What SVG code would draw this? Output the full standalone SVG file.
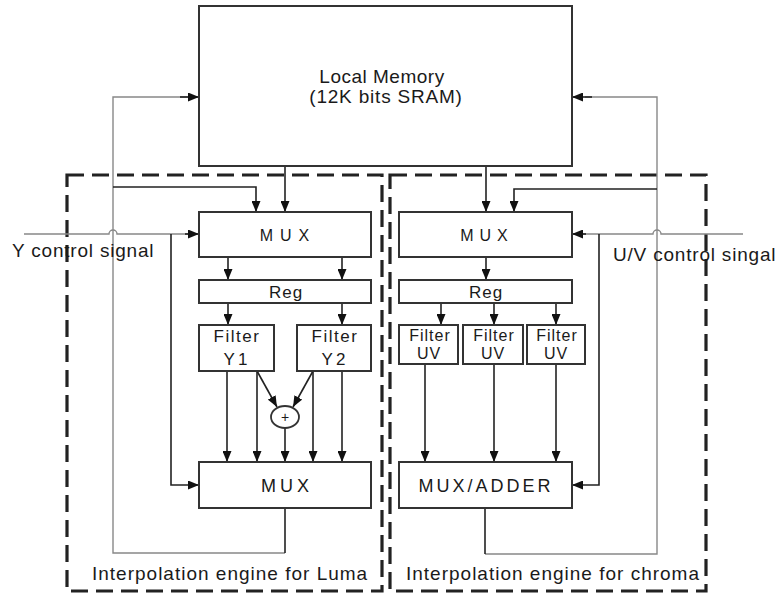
<svg xmlns="http://www.w3.org/2000/svg" width="780" height="594" viewBox="0 0 780 594">
<defs>
<marker id="ah" viewBox="0 0 11 9" refX="11" refY="4.5" markerWidth="11" markerHeight="9" markerUnits="userSpaceOnUse" orient="auto">
<path d="M0,0 L11,4.5 L0,9 z" fill="#111"/>
</marker>
</defs>
<style>
.box{fill:#fff;stroke:#333;stroke-width:2}
.dash{fill:none;stroke:#222;stroke-width:3.2;stroke-dasharray:17 8}
.w{fill:none;stroke:#222;stroke-width:1.6}
.g{fill:none;stroke:#888;stroke-width:1.4}
.a{marker-end:url(#ah)}
text{font-family:"Liberation Sans",Arial,sans-serif;fill:#1a1a1a}
.t19{font-size:19px}
.c{text-anchor:middle}
</style>
<rect width="780" height="594" fill="#fff"/>

<g id="luma-engine">
<rect class="dash" x="67" y="175" width="315" height="416"/>
<text class="t19" x="92" y="580" letter-spacing="1">Interpolation engine for Luma</text>
</g>
<g id="chroma-engine">
<rect class="dash" x="390" y="175" width="316" height="416"/>
<text class="t19" x="406" y="580" letter-spacing="1">Interpolation engine for chroma</text>
</g>

<g id="connectors">
<path class="g" d="M285,553 H113 V97 H188"/>
<path class="w a" d="M180,97 H199"/>
<path class="w" d="M285,508 V553"/>
<path class="w a" d="M113,187 H256 V212"/>
<path class="w a" d="M285,166 V212"/>
<path class="g" d="M485,554 H657 V97 H585"/>
<path class="w a" d="M592,97 H572"/>
<path class="w" d="M485,508 V554"/>
<path class="w a" d="M657,189 H514 V212"/>
<path class="w a" d="M486,166 V212"/>
<path class="g" d="M24,234 H109 A4,4 0 0 1 117,234 H190"/>
<path class="w a" d="M185,234 H199"/>
<path class="w a" d="M171,234 V485 H199"/>
<path class="g" d="M743,234 H661 A4,4 0 0 0 653,234 H580"/>
<path class="w a" d="M586,234 H572"/>
<path class="w a" d="M599,234 V485 H572"/>
<path class="w a" d="M228,257 V280"/>
<path class="w a" d="M342,257 V280"/>
<path class="w a" d="M228,303 V325"/>
<path class="w a" d="M342,303 V325"/>
<path class="w a" d="M227,371 V462"/>
<path class="w a" d="M257,371 V462"/>
<path class="w a" d="M313,371 V462"/>
<path class="w a" d="M342,371 V462"/>
<path class="w a" d="M257,371 L277,407"/>
<path class="w a" d="M313,371 L293,407"/>
<path class="w a" d="M285,428 V462"/>
<path class="w a" d="M486,257 V280"/>
<path class="w a" d="M441,303 V325"/>
<path class="w a" d="M494,303 V325"/>
<path class="w a" d="M556,303 V325"/>
<path class="w a" d="M425,364 V462"/>
<path class="w a" d="M494,364 V462"/>
<path class="w a" d="M556,364 V462"/>
</g>

<g id="local-memory">
<rect class="box" x="199" y="6" width="373" height="160"/>
<text class="t19 c" x="382" y="83" letter-spacing="0.5">Local Memory</text>
<text class="t19 c" x="386" y="103" letter-spacing="0.8">(12K bits SRAM)</text>
</g>

<g id="y-control-label"><text class="t19" x="12" y="257" letter-spacing="0.8">Y control signal</text></g>
<g id="uv-control-label"><text class="t19" x="613" y="261" letter-spacing="0.8">U/V  control singal</text></g>

<g id="luma-mux-top">
<rect class="box" x="199" y="212" width="172" height="45"/>
<text class="c" x="288" y="241" font-size="16" letter-spacing="7">MUX</text>
</g>
<g id="luma-reg">
<rect class="box" x="199" y="280" width="172" height="23"/>
<text class="c" x="286" y="298" font-size="17" letter-spacing="1">Reg</text>
</g>
<g id="filter-y1">
<rect class="box" x="199" y="325" width="75" height="46"/>
<text class="c" x="237" y="342" font-size="17" letter-spacing="1.5">Filter</text>
<text class="c" x="237" y="365" font-size="17" letter-spacing="3">Y1</text>
</g>
<g id="filter-y2">
<rect class="box" x="297" y="325" width="74" height="46"/>
<text class="c" x="335" y="342" font-size="17" letter-spacing="1.5">Filter</text>
<text class="c" x="335" y="365" font-size="17" letter-spacing="3">Y2</text>
</g>
<g id="adder">
<ellipse cx="285" cy="417" rx="14" ry="11" fill="#fff" stroke="#333" stroke-width="1.8"/>
<text class="c" x="285" y="422" font-size="14">+</text>
</g>
<g id="luma-mux-bottom">
<rect class="box" x="199" y="462" width="172" height="46"/>
<text class="c" x="287" y="492" font-size="18" letter-spacing="4">MUX</text>
</g>

<g id="chroma-mux-top">
<rect class="box" x="399" y="212" width="173" height="45"/>
<text class="c" x="487" y="241" font-size="16" letter-spacing="6">MUX</text>
</g>
<g id="chroma-reg">
<rect class="box" x="399" y="280" width="173" height="23"/>
<text class="c" x="486" y="298" font-size="17" letter-spacing="1">Reg</text>
</g>
<g id="filter-uv1">
<rect class="box" x="399" y="325" width="59" height="39"/>
<text class="c" x="430" y="341" font-size="16" letter-spacing="1">Filter</text>
<text class="c" x="429" y="359" font-size="16" letter-spacing="1">UV</text>
</g>
<g id="filter-uv2">
<rect class="box" x="463" y="325" width="60" height="39"/>
<text class="c" x="494" y="341" font-size="16" letter-spacing="1">Filter</text>
<text class="c" x="493" y="359" font-size="16" letter-spacing="1">UV</text>
</g>
<g id="filter-uv3">
<rect class="box" x="527" y="325" width="58" height="39"/>
<text class="c" x="557" y="341" font-size="16" letter-spacing="1">Filter</text>
<text class="c" x="556" y="359" font-size="16" letter-spacing="1">UV</text>
</g>
<g id="chroma-mux-adder">
<rect class="box" x="399" y="462" width="173" height="46"/>
<text class="c" x="486" y="492" font-size="18" letter-spacing="3">MUX/ADDER</text>
</g>
</svg>
